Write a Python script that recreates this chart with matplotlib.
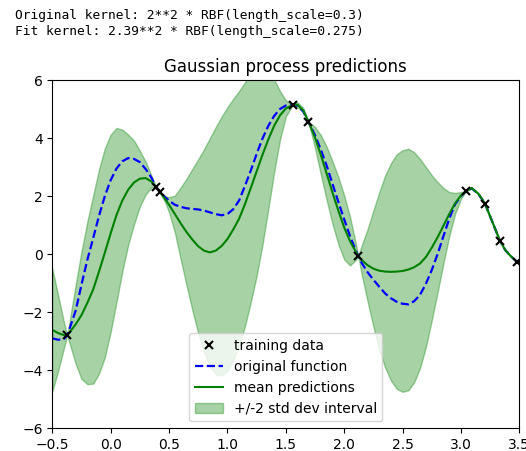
import numpy as np
import matplotlib
matplotlib.use("Agg")
import matplotlib.pyplot as plt

# training data
X_train = [-0.372, 0.388, 0.422, 1.559, 1.693, 2.121, 3.043, 3.206, 3.335, 3.478]
y_train = [-2.80, 2.32, 2.14, 5.14, 4.57, -0.07, 2.17, 1.74, 0.45, -0.26]

# prediction grid
x_pred = [-0.5, -0.45, -0.4, -0.372, -0.3, -0.25, -0.2, -0.15, -0.1, -0.05, 0.0, 0.05, 0.1, 0.15,
          0.2, 0.25, 0.3, 0.35, 0.388, 0.422, 0.465, 0.5, 0.55, 0.6, 0.65, 0.7, 0.75, 0.8, 0.85,
          0.9, 0.95, 1.0, 1.05, 1.1, 1.15, 1.2, 1.25, 1.3, 1.35, 1.4, 1.45, 1.5, 1.559, 1.6, 1.65,
          1.693, 1.75, 1.8, 1.85, 1.9, 1.95, 2.0, 2.05, 2.1, 2.121, 2.15, 2.2, 2.25, 2.3, 2.35,
          2.4, 2.45, 2.5, 2.55, 2.6, 2.65, 2.7, 2.75, 2.8, 2.85, 2.9, 2.95, 3.0, 3.043, 3.092,
          3.15, 3.206, 3.25, 3.3, 3.335, 3.38, 3.42, 3.478, 3.5]

mean_pred = [-2.61, -2.72, -2.79, -2.80, -2.42, -2.10, -1.68, -1.22, -0.60, 0.05, 0.72, 1.35, 1.85, 2.22,
             2.47, 2.60, 2.62, 2.50, 2.32, 2.14, 1.90, 1.70, 1.38, 1.06, 0.76, 0.50, 0.27, 0.12, 0.06,
             0.12, 0.28, 0.52, 0.85, 1.22, 1.72, 2.28, 2.85, 3.42, 3.95, 4.42, 4.78, 5.02, 5.14, 5.15, 4.95,
             4.57, 4.02, 3.42, 2.78, 2.12, 1.50, 0.92, 0.45, 0.08, -0.07, -0.20, -0.38, -0.50, -0.57, -0.60,
             -0.61, -0.60, -0.58, -0.53, -0.45, -0.32, -0.10, 0.22, 0.58, 0.98, 1.38, 1.75, 2.02, 2.17, 2.28,
             2.08, 1.74, 1.30, 0.80, 0.45, 0.14, -0.04, -0.26, -0.32]

orig_func = [-2.90, -2.95, -2.92, -2.80, -1.95, -1.05, -0.20, 0.55, 1.32, 2.00, 2.55, 2.95, 3.20, 3.31,
             3.28, 3.17, 2.93, 2.63, 2.32, 2.14, 1.97, 1.84, 1.70, 1.63, 1.58, 1.56, 1.54, 1.50, 1.44,
             1.38, 1.34, 1.38, 1.55, 1.85, 2.35, 2.88, 3.45, 3.98, 4.42, 4.76, 5.00, 5.12, 5.14, 5.12, 4.92,
             4.57, 4.10, 3.60, 3.05, 2.42, 1.80, 1.20, 0.62, 0.12, -0.07, -0.30, -0.62, -0.88, -1.12, -1.35,
             -1.52, -1.64, -1.71, -1.73, -1.62, -1.40, -1.02, -0.55, 0.00, 0.62, 1.22, 1.72, 2.00, 2.17, 2.27,
             2.07, 1.74, 1.30, 0.80, 0.45, 0.14, -0.04, -0.26, -0.33]

std_pred = [1.06, 0.65, 0.22, 0.0, 0.68, 1.10, 1.40, 1.62, 1.76, 1.80, 1.70, 1.50, 1.22, 0.95,
            0.72, 0.48, 0.28, 0.10, 0.0, 0.0, 0.05, 0.13, 0.32, 0.62, 0.92, 1.22, 1.50, 1.75, 1.97,
            2.13, 2.23, 2.27, 2.25, 2.20, 2.10, 1.97, 1.80, 1.55, 1.20, 0.80, 0.42, 0.14, 0.0, 0.04, 0.04,
            0.0, 0.18, 0.34, 0.46, 0.54, 0.58, 0.55, 0.42, 0.14, 0.0, 0.25, 0.62, 1.00, 1.35, 1.65,
            1.87, 2.02, 2.08, 2.08, 1.98, 1.80, 1.55, 1.25, 0.95, 0.65, 0.38, 0.18, 0.06, 0.0, 0.01,
            0.01, 0.0, 0.01, 0.01, 0.0, 0.01, 0.01, 0.0, 0.01]

header = ["Original kernel: 2**2 * RBF(length_scale=0.3)",
          "Fit kernel: 2.39**2 * RBF(length_scale=0.275)"]

W, H = 526, 451
fig = plt.figure(figsize=(W / 100, H / 100), dpi=100)
ax = fig.add_axes([52.3 / W, 1 - 428.3 / H, (519.3 - 52.3) / W, (428.3 - 80) / H])

xp = np.array(x_pred)
mp = np.array(mean_pred)
sp = np.array(std_pred)

ax.plot(X_train, y_train, 'kx', markersize=6, mew=1.5, label='training data', zorder=5)
ax.plot(xp, orig_func, 'b--', lw=1.6, label='original function')
ax.plot(xp, mp, color='green', lw=1.5, label='mean predictions')
ax.fill_between(xp, mp - 2 * sp, mp + 2 * sp, color='green', alpha=0.35,
                label='+/-2 std dev interval')

ax.set_xlim(-0.5, 3.5)
ax.set_ylim(-6, 6)
ax.set_title('Gaussian process predictions', fontsize=12)
ax.legend(loc='lower center', fontsize=10)

fig.text(15 / W, 1 - 9 / H, "\n".join(header), va='top', ha='left',
         family='DejaVu Sans Mono', fontsize=9.3, linespacing=1.28)

fig.savefig('out.png', dpi=100)
